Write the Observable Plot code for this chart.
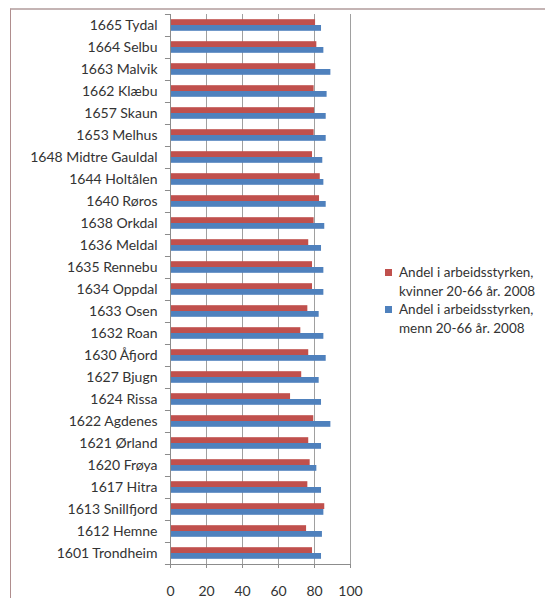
<!DOCTYPE html>
<html>
<head>
<meta charset="utf-8">
<script src="https://cdn.jsdelivr.net/npm/d3@7"></script>
<script src="https://cdn.jsdelivr.net/npm/@observablehq/plot@0.6"></script>
<style>
  html, body { margin: 0; padding: 0; background: #fff; }
  #wrap { position: relative; width: 545px; height: 598px; overflow: hidden; font-family: Lato, "Open Sans", sans-serif; }
  #frame { position: absolute; left: 10px; top: 8px; width: 600px; height: 700px; border-left: 1.5px solid #b08e8e; border-top: 2px solid #c4b4b4; }
  #chart { position: absolute; left: 0; top: 0; }
  #legend { position: absolute; left: 385px; top: 263px; font-size: 13.5px; color: #333; line-height: 18.5px; }
  .item { position: relative; padding-left: 14px; margin-bottom: 0px; }
  .sw { position: absolute; left: 0; top: 6px; width: 7px; height: 7px; }
</style>
</head>
<body>
<div id="wrap">
  <div id="frame"></div>
  <div id="chart"></div>
  <div id="legend"></div>
</div>
<script>
const municipalities = [
  "1665 Tydal", "1664 Selbu", "1663 Malvik", "1662 Klæbu", "1657 Skaun",
  "1653 Melhus", "1648 Midtre Gauldal", "1644 Holtålen", "1640 Røros", "1638 Orkdal",
  "1636 Meldal", "1635 Rennebu", "1634 Oppdal", "1633 Osen", "1632 Roan",
  "1630 Åfjord", "1627 Bjugn", "1624 Rissa", "1622 Agdenes", "1621 Ørland",
  "1620 Frøya", "1617 Hitra", "1613 Snillfjord", "1612 Hemne", "1601 Trondheim"
];
const women = [80.6, 81.3, 80.7, 79.8, 80.0, 79.8, 78.9, 83.2, 82.8, 79.8,
               76.8, 78.9, 78.9, 76.3, 72.4, 76.8, 72.9, 66.7, 79.6, 76.8,
               77.6, 76.3, 85.7, 75.6, 78.9];
const men   = [83.9, 85.2, 89.1, 87.0, 86.5, 86.5, 84.6, 85.2, 86.5, 85.7,
               83.9, 85.2, 85.2, 82.6, 85.2, 86.5, 82.6, 83.9, 89.1, 83.9,
               81.3, 83.9, 85.2, 84.4, 83.9];
const xTicks = [0, 20, 40, 60, 80, 100];
const seriesNames = ["Andel i arbeidsstyrken, kvinner 20-66 år. 2008",
                     "Andel i arbeidsstyrken, menn 20-66 år. 2008"];
const colors = ["#c0504d", "#4f81bd"];

const rowsW = municipalities.map((m, i) => ({name: m, value: women[i]}));
const rowsM = municipalities.map((m, i) => ({name: m, value: men[i]}));
const last = [municipalities[municipalities.length - 1]];

const chart = Plot.plot({
  width: 545,
  height: 598,
  marginLeft: 170,
  marginRight: 195,
  marginTop: 14,
  marginBottom: 34,
  style: {fontFamily: "Lato, 'Open Sans', sans-serif", fontSize: "14px", color: "#333", background: "transparent"},
  x: {domain: [0, 100], ticks: xTicks},
  y: {domain: municipalities, padding: 0},
  marks: [
    Plot.gridX(xTicks, {stroke: "#a0a0a0", strokeOpacity: 1, strokeWidth: 1}),
    Plot.barX(rowsW, {y: "name", x: "value", fill: colors[0], insetTop: 5.2, insetBottom: 11}),
    Plot.barX(rowsM, {y: "name", x: "value", fill: colors[1], insetTop: 11, insetBottom: 5.2}),
    Plot.frame({anchor: "left", stroke: "#8c8c8c"}),
    Plot.frame({anchor: "bottom", stroke: "#8c8c8c"}),
    Plot.ruleY(municipalities, {y: d => d, x1: -2.8, x2: 0, dy: -11, stroke: "#8c8c8c"}),
    Plot.ruleY(last, {y: d => d, x1: -2.8, x2: 0, dy: 11, stroke: "#8c8c8c"}),
    Plot.axisX({ticks: xTicks, tickSize: 4, tickPadding: 18, label: null, stroke: "#8c8c8c", fontSize: 14}),
    Plot.axisY({tickSize: 0, tickPadding: 13, label: null, fontSize: 14})
  ]
});
document.getElementById("chart").appendChild(chart);

const legend = document.getElementById("legend");
seriesNames.forEach((s, i) => {
  const parts = s.split(", ");
  const item = document.createElement("div");
  item.className = "item";
  const sw = document.createElement("span");
  sw.className = "sw";
  sw.style.background = colors[i];
  item.appendChild(sw);
  item.appendChild(document.createTextNode(parts[0] + ","));
  item.appendChild(document.createElement("br"));
  item.appendChild(document.createTextNode(parts[1]));
  legend.appendChild(item);
});
</script>
</body>
</html>
